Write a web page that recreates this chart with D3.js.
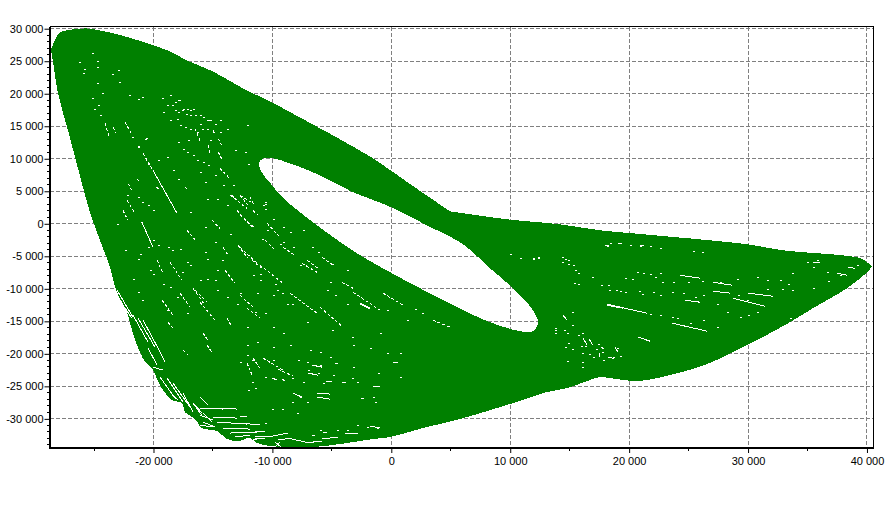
<!DOCTYPE html>
<html><head><meta charset="utf-8">
<script src="https://cdn.jsdelivr.net/npm/d3@7"></script>
<style>
html,body{margin:0;padding:0;background:#fff;}
svg{display:block;}
text{font-family:"Liberation Sans",Arial,sans-serif;font-size:11px;fill:#000;}
</style></head><body><svg id="c" width="885" height="512"></svg>
<script>
const xMajor=[-20000,-10000,0,10000,20000,30000,40000];
const xMinor=[-25000,-15000,-5000,5000,15000,25000,35000];
const yMajor=[30000,25000,20000,15000,10000,5000,0,-5000,-10000,-15000,-20000,-25000,-30000];
const yMinor=[29000,28000,27000,26000,24000,23000,22000,21000,19000,18000,17000,16000,14000,13000,12000,11000,9000,8000,7000,6000,4000,3000,2000,1000,-1000,-2000,-3000,-4000,-6000,-7000,-8000,-9000,-11000,-12000,-13000,-14000,-16000,-17000,-18000,-19000,-21000,-22000,-23000,-24000,-26000,-27000,-28000,-29000,-31000,-32000,-33000,-34000];
const xTickLabels=["-20 000","-10 000","0","10 000","20 000","30 000","40 000"];
const yTickLabels=["30 000","25 000","20 000","15 000","10 000","5 000","0","-5 000","-10 000","-15 000","-20 000","-25 000","-30 000"];
const xDomain=[-28745,40550];
const yDomain=[-34480,30340];

const traceOutline=[[-28620,26650],[-28530,27260],[-28280,28190],[-28110,28950],[-27690,29570],[-26850,29880],[-25590,30030],[-24500,29720],[-22980,29110],[-20710,27880],[-18610,26500],[-17180,25110],[-14990,23420],[-12470,20810],[-10030,18660],[-7850,16510],[-4150,12830],[-1540,10060],[60,8060],[2580,4840],[4940,1920],[4940,1920],[9730,690],[14190,-80],[17550,-1000],[21170,-1610],[29910,-3150],[32940,-4070],[38570,-4990],[39660,-5450],[40420,-6530],[40420,-6530],[40090,-7300],[38320,-9910],[35460,-12980],[33530,-15130],[30750,-17890],[28730,-19740],[26550,-21580],[23440,-23270],[20660,-24190],[18980,-23880],[17550,-23580],[16460,-24190],[14780,-25270],[13090,-25880],[10230,-27570],[8050,-28800],[5780,-30030],[2660,-31410],[-110,-32790],[-1540,-33100],[-4310,-33870],[-6590,-34330],[-9360,-34330],[-11290,-33710],[-11880,-32950],[-12890,-33410],[-13820,-33100],[-14660,-31870],[-15920,-31410],[-16510,-30030],[-17350,-28950],[-17600,-27570],[-18440,-27110],[-19200,-25570],[-19700,-23880],[-20130,-22200],[-20710,-21270],[-21130,-19740],[-21550,-17890],[-21970,-15280],[-22230,-13590],[-23150,-10210],[-23660,-6680],[-24500,-2530],[-25340,1770],[-26350,8520],[-27190,14360],[-28030,20040],[-28530,25880]];
const traceHole=[[-11130,9290],[-10790,10060],[-9950,10060],[-8520,9290],[-6000,7450],[-3220,4840],[-360,2840],[2990,-230],[6030,-3150],[8300,-6840],[10230,-9910],[11910,-13290],[12340,-15280],[11910,-16510],[10820,-16510],[8300,-15130],[5190,-12520],[2410,-9910],[-110,-7450],[-2890,-4530],[-6250,-230],[-9110,3990],[-10200,6290],[-10870,7830]];

const whiteStreaks=[[-18610,-5910,-17600,-8680],[-16680,-9910,-15670,-12520],[-19700,-5610,-19200,-7600],[-22230,3610,-21550,1610],[-22570,2070,-22150,540],[-14150,-3610,-13730,-4840],[-12890,-3300,-12050,-5300],[-11720,-5610,-10870,-6840],[-13990,-7140,-13150,-9140],[-15080,540,-14410,-690],[-17180,-1000,-16340,-2840],[-10620,-2530,-9780,-4070],[-12980,2070,-11630,-690],[-11630,2070,-11210,1310],[-19280,-11750,-18360,-14050],[-17770,-10670,-16930,-12830],[-16090,-12060,-14830,-14820],[-13570,4380,-12140,2380],[-10450,80,-9360,-2070],[-12140,-12980,-11040,-14510],[-11040,-6370,-9110,-9140],[-12720,-3610,-11290,-6070],[-700,-10670,980,-12520],[-3220,-10520,-950,-13290],[-7510,-6070,-6250,-7450],[-5830,-5150,-4900,-6370],[-4150,-8990,-3220,-9910],[-8520,-10670,-6250,-13750],[3510,-14820,4940,-15900],[-6000,-12830,-4060,-15900],
[-16510,-10210,-15500,-12060],[-15500,-18660,-15080,-19740],[-17520,-19430,-17100,-20200],[-18780,-15130,-18190,-16360],[-15840,-16820,-15420,-17890],[-13820,-14510,-13400,-15900],
[-12720,4380,-11630,3150],[-12720,1310,-11460,-690],[-9110,-3610,-8100,-4840],[-7090,-5610,-6170,-6840],[-12720,-10980,-11630,-12830],
[-24080,15440,-23740,13440],[-23400,14820,-23150,14050],[-20880,10830,-20130,8520],
[-16510,14620,-16090,12830],[-14970,14370,-14830,13600],[-14550,13090,-14270,12060],[-15390,12060,-15250,10780],[-14550,11040,-14270,10010],[-14410,8480,-13570,6940],[-22400,15650,-21840,13850],[-20860,10780,-20300,8730],[-19740,5660,-19460,5150],[-17350,5660,-17070,5150],[-21420,6940,-21140,6430],[-22120,6170,-21840,5150],[-13430,4380,-13010,3610],[-12730,4380,-12030,2850],[-11890,4130,-11610,3100],
[-10790,-20660,-9110,-22500],[-9530,-22350,-8270,-23420],[-12140,-21430,-11630,-23580],[-11630,-20660,-11040,-22200]];

const whiteSolid=[[-20040,8220,-18020,1610],[-20970,230,-20040,-3610],[-2630,-12210,-1790,-12980],[-2630,-12360,-1790,-13130],
[18140,-12360,21500,-13750],[18140,-12510,19500,-13000],[23610,-15280,26550,-16510],[24280,-7910,25960,-8370],[27050,-8990,28650,-9450],[30000,-10670,32100,-11140],[27050,-10370,28480,-10670],[28730,-11440,31420,-12670],[24700,-11750,25960,-12060],[20750,-17430,21750,-18050],[36300,-4530,36880,-4530],[35460,-5910,36040,-5910],[38400,-6680,39000,-6840],[37480,-7600,38320,-7910],[14440,-14050,14780,-14820],[16120,-17580,16460,-18660],[16630,-17740,16960,-18660],[17470,-19890,17470,-20500],[18810,-18970,19060,-19740],[19060,-3000,19400,-3000],[20910,-3300,21250,-3300],[17970,-3300,18310,-3300],
[-1540,-24960,-950,-24960],[-4150,-24340,-3810,-24340],[-5490,-24190,-4990,-24190],[-6250,-26030,-5160,-26190],[-6250,-26650,-5160,-26960],[-2550,-26800,-2300,-26800],[-4730,-21430,-4480,-21430],[140,-21270,560,-21270],[-12720,-29570,-12140,-29720],[-1790,-31100,-950,-31410],
[-7000,-22960,-6170,-23270],[-6670,-21730,-5830,-22040],[-8270,-26030,-7510,-26650],[-10030,-23730,-9610,-24040],[-9190,-23880,-8940,-24190],
[-21720,-14050,-20460,-18200],[-21300,-14510,-19870,-18970],[-20880,-14820,-19620,-19120],[-20460,-19120,-19700,-21730],[-19620,-19120,-19030,-21270],[-20040,-22040,-19200,-22500],[-18440,-26340,-17940,-27110],[-16510,-27880,-15920,-29110],[-16090,-29420,-15000,-30180],[-15840,-30490,-14830,-31260],[-14660,-30490,-12140,-30800],[-15000,-28340,-12980,-28490],[-16090,-26650,-15420,-27880],[-22570,-12520,-21810,-14510],[-23070,-10210,-21720,-14360],
[-11460,-31870,-10620,-31870],[-11460,-32640,-10030,-32790],[-10620,-30640,-10450,-30640],[-11460,-32950,-10620,-33100],[-10370,-32790,-8690,-32180],[-9530,-33250,-8350,-32950],[-8350,-33100,-7260,-33560],[-7260,-33710,-5830,-33410],[-5830,-33100,-4480,-32790],[-6670,-32490,-6420,-32490],[-5740,-32030,-5410,-32030],[-3890,-32180,-2800,-32330],[-9780,-34330,-9360,-33560],[-9190,-34480,-9780,-33560],[-16090,-28340,-14150,-28490],[-15840,-29110,-15080,-30490],[-15000,-29720,-12980,-29880],[-12720,-30640,-11040,-30950],[-14150,-31410,-11880,-31570],[-13570,-32180,-11290,-32030],[-13150,-32790,-11880,-32490],[-11880,-33410,-11040,-32950],[-19450,-23580,-18190,-26800],[-18860,-23730,-17520,-27420],[-18360,-24500,-16930,-28190],[-17520,-26030,-16680,-28950],[-16090,-30950,-15080,-31260],[-16680,-27570,-15840,-29720],
[-17910,18970,-17690,18970],[-15480,15900,-15110,15900]];

const whiteDots=[[-25170,26190],[-26260,24810],[-24750,25110],[-25840,23880],[-24750,24040],[-25930,23120],[-22980,23580],[-23490,22960],[-24750,21580],[-22900,21730],[-25170,19280],[-24330,20040],[-22060,19740],[-20970,19430],[-21300,19120],[-19280,19280],[-24670,18200],[-25000,17590],[-24500,16670],[-21810,13290],[-20630,13130],[-21300,11900],
[-19180,17180],[-18900,18200],[-18470,18200],[-18190,18720],[-18610,15900],[-18190,17440],[-17910,17180],[-18000,16160],[-17630,17440],[-17500,17690],[-17210,17690],[-16930,17440],[-16650,17690],[-17270,16930],[-16930,16670],[-16510,16670],[-16090,16670],[-15810,16410],[-14830,15390],[-14410,15900],[-17770,15130],[-17350,14880],[-16930,14620],[-16370,14110],[-16090,15390],[-15950,14620],[-15530,14620],[-14410,14110],[-15250,12830],[-17070,12830],[-17910,12570],[-17500,11550],[-17210,11040],[-16650,10530],[-16370,9760],[-15810,9500],[-15390,8990],[-16090,7970],[-15670,6430],[-14830,7450],[-13290,5920],[-14130,5920],[-12310,11040],[-13150,11290],[-12030,9250],[-12170,15130],[-13800,14620],[-21000,19490],[-18610,19740],[-19320,19380],[-19600,9760],[-18900,10270],[-18340,8220],[-17910,6940],[-21280,11810],[-20720,13090],[-10630,3100],
[-21280,4130],[-22260,4380],[-20990,3360],[-20430,2850],[-20010,2080],[-23100,30],[-22400,-4070],[-21140,-4580],[-21280,-5350],[-20430,-3550],[-20010,-2530],[-19590,-3300],[-18750,-3550],[-18470,-4070],[-17770,-3810],[-17210,-5860],[-16930,-6370],[-17630,-7390],[-15530,-5350],[-15670,-4320],[-14270,-5600],[-14690,-7140],[-15530,-8420],[-14830,-8670],[-16090,-8670],[-20290,-7140],[-20010,-7650],[-21700,-8420],[-21280,-10470],[-21000,-11750],[-19170,-9190],[-18610,-9700],[-18050,-11230],[-18890,-13280],[-17210,-13790],[-14690,-10210],[-13850,-11230],[-12730,-10720],[-13010,-12260],[-11040,-8670],[-9640,-10210],[-11610,-7900],[-9220,-10720],[-9920,-10980],[-8800,-12260],[-13570,-1510],[-14830,-2790],[-15670,-480],[-16930,1820],[-15530,3870],[-14690,3870],[-13850,2850],[-10760,2850],[-10480,-990],[-8800,3610],[-9080,-2790],
[-12160,-18660],[-11320,-18150],[-9920,-18910],[-8520,-18660],[-6830,-19430],[-5990,-19680],[-5150,-20450],[-3190,-18660],[-1790,-19170],[-390,-19940],[730,-19940],[-12160,-20190],[-11740,-20960],[-12720,-21220],[-9920,-20960],[-7810,-20960],[-7110,-21220],[-5990,-21730],[-3190,-21990],[-1090,-23010],[730,-23520],[-6970,-22500],[-6130,-23010],[-4870,-23270],[-3330,-23780],[-2910,-24290],[-5710,-24550],[-7390,-24290],[-8380,-23780],[-9080,-24030],[-9920,-23780],[-10620,-23520],[-11740,-24290],[-11460,-25310],[-12020,-25570],[-8230,-26080],[-7670,-26590],[-7110,-27360],[-8380,-27360],[-1510,-26590],[-1370,-27360],[-10060,-28540],[-9220,-28540],[-7950,-29050],[-4590,-31710],[-3750,-31710],[-2070,-31200],[-1230,-31460],[-2910,-30950],[-5990,-31710],
[18390,-2940],[18110,-3350],[20100,-3200],[20910,-3350],[21750,-3450],[22600,-3660],[25400,-4170],[26100,-4270],[20630,-7400],[21190,-7500],[21750,-7650],[22600,-7550],[19650,-8270],[22180,-8160],[22740,-8930],[23720,-8930],[24980,-8930],[26100,-8780],[27640,-8930],[29040,-8420],[30720,-8160],[31560,-8680],[32690,-8680],[33390,-9190],[33670,-7500],[22030,-10470],[22600,-10980],[23580,-10470],[24560,-10720],[25540,-11240],[26240,-10980],[29180,-10980],[29880,-11750],[31560,-9960],[32830,-9960],[33670,-10210],[35490,-9800],[36750,-8780],[36610,-7400],[37730,-7910],[35490,-6630],[34930,-5860],[35770,-5500],[39130,-6370],[39970,-5860],[27360,-12260],[29320,-14310],[30020,-14050],[30720,-13540],[28200,-13540],[23580,-14310],[24000,-14560],[25120,-15330],[26240,-14820],[27360,-15840],[22600,-14050],[21750,-13900],[18950,-19170],[17690,-19170],[18250,-20450],[18670,-20450],[17830,-20960],[19230,-20350],[33530,-14560],[34370,-14310],[29040,-19430],[30720,-17990],
[11940,-5350],[12360,-5200],[14320,-5100],[14600,-5350],[14880,-5510],[14320,-5860],[14880,-6120],[15300,-6270],[15440,-7040],[15720,-7500],[16900,-8170],[15390,-9040],[15720,-9190],[17600,-9450],[18250,-9450],[18300,-10220],[18890,-10110],[19230,-10320],[19650,-10470],[20850,-10270],[21100,-10830],[19650,-8270],[20270,-8420],[20690,-7400],[21190,-7500],[15160,-13540],[15220,-15490],[13760,-16100],[13760,-16870],[14550,-16360],[14740,-16870],[15720,-17130],[16060,-16870],[14880,-18310],[14600,-19020],[15160,-19180],[15920,-18870],[16290,-18820],[17410,-18560],[17210,-19330],[17630,-19020],[17690,-19690],[16010,-19940],[16650,-20050],[16990,-20460],[17830,-20970],[18390,-20460],[18580,-20710],[16010,-21220],[14740,-21170],[16060,-22090],
[-12300,11040],[-10620,3360],[-10620,2330],[-9920,800],[-9080,-480],[-8520,-1250],[-7400,-990],[-6690,-3550],[-6130,-4320],[-10900,-2270],[-9360,-3040],[-8230,-3550],[-7670,-6370],[-5010,-6110],[-3750,-7140],[-5150,-8930],[-4730,-10980],[-5430,-10210],[-9780,-9190],[-8380,-12260],[-11040,-7650],[-11320,-10720],[-3750,-12260],[-390,-13280],[1300,-14820],[2560,-13790],[2000,-13030],[-950,-16870],[-3330,-17380],[-5010,-16350],[-7110,-15070],[-9080,-16870],[-9920,-15840],[-10620,-13790],[-11460,-13540],[-12160,-15840],[9980,-4580],[10830,-5190],[11950,-5190],[12370,-5090],[13770,-16350],[13770,-16870]];

const plotL=49.5,plotR=873.5,plotT=26.5,plotB=448;
const xs=d3.scaleLinear().domain(xDomain).range([plotL,plotR]);
const ys=d3.scaleLinear().domain(yDomain).range([plotB,plotT]);
const svg=d3.select("#c");
svg.append("defs").append("clipPath").attr("id","plot").append("rect")
  .attr("x",plotL).attr("y",plotT).attr("width",plotR-plotL).attr("height",plotB-plotT);

const grid=svg.append("g").attr("stroke","#808080").attr("stroke-width",1).attr("stroke-dasharray","4,2").attr("shape-rendering","crispEdges");
grid.selectAll(".gx").data(xMajor).join("line").attr("class","gx").attr("x1",d=>xs(d)).attr("x2",d=>xs(d)).attr("y1",plotT).attr("y2",plotB);
grid.selectAll(".gy").data(yMajor).join("line").attr("class","gy").attr("y1",d=>ys(d)).attr("y2",d=>ys(d)).attr("x1",plotL).attr("x2",plotR);

const plot=svg.append("g").attr("clip-path","url(#plot)");
const pathGen=d3.line().x(d=>xs(d[0])).y(d=>ys(d[1])).curve(d3.curveCatmullRomClosed.alpha(0.5));
plot.append("path").attr("d",pathGen(traceOutline)+pathGen(traceHole))
  .attr("fill","#008000").attr("fill-rule","evenodd").attr("stroke","none").attr("shape-rendering","crispEdges");
const drawSegs=(data,dash)=>plot.append("g").attr("stroke","#fff").attr("stroke-width",1).attr("shape-rendering","crispEdges").attr("stroke-dasharray",dash)
  .selectAll("line").data(data).join("line")
  .attr("x1",d=>xs(d[0])).attr("y1",d=>ys(d[1])).attr("x2",d=>xs(d[2])).attr("y2",d=>ys(d[3]));
drawSegs(whiteStreaks,"3,2");
drawSegs(whiteSolid,null);
plot.append("g").attr("fill","#fff").attr("shape-rendering","crispEdges")
  .selectAll("rect").data(whiteDots).join("rect")
  .attr("x",d=>Math.round(xs(d[0]))).attr("y",d=>Math.round(ys(d[1]))).attr("width",1.5).attr("height",1);

const axB=d3.axisBottom(xs).tickValues(xMajor).tickFormat((d,i)=>xTickLabels[i]).tickSize(5).tickPadding(4);
const axL=d3.axisLeft(ys).tickValues(yMajor).tickFormat((d,i)=>yTickLabels[i]).tickSize(5).tickPadding(1);
const gB=svg.append("g").attr("transform",`translate(0,${plotB})`).call(axB);
const gL=svg.append("g").attr("transform",`translate(${plotL},0)`).call(axL);
gB.selectAll("text").style("font-family",'"Liberation Sans",Arial,sans-serif').style("font-size","11px");
gL.selectAll("text").style("font-family",'"Liberation Sans",Arial,sans-serif').style("font-size","11px");
gB.select(".domain").remove(); gL.select(".domain").remove();
const minor=svg.append("g").attr("stroke","#000").attr("shape-rendering","crispEdges");
minor.selectAll(".mx").data(xMinor).join("line").attr("class","mx").attr("x1",d=>xs(d)).attr("x2",d=>xs(d)).attr("y1",plotB).attr("y2",plotB+3);
minor.selectAll(".my").data(yMinor).join("line").attr("class","my").attr("y1",d=>ys(d)).attr("y2",d=>ys(d)).attr("x1",plotL-3).attr("x2",plotL);
const frame=svg.append("g").attr("stroke","#000").attr("shape-rendering","crispEdges");
frame.append("line").attr("x1",plotL).attr("x2",plotR).attr("y1",plotT).attr("y2",plotT);
frame.append("line").attr("x1",plotR).attr("x2",plotR).attr("y1",plotT).attr("y2",plotB);
frame.append("line").attr("x1",plotL).attr("x2",plotL).attr("y1",plotT).attr("y2",plotB+1).attr("stroke-width",2);
frame.append("line").attr("x1",plotL).attr("x2",plotR).attr("y1",plotB).attr("y2",plotB).attr("stroke-width",2);
</script></body></html>
